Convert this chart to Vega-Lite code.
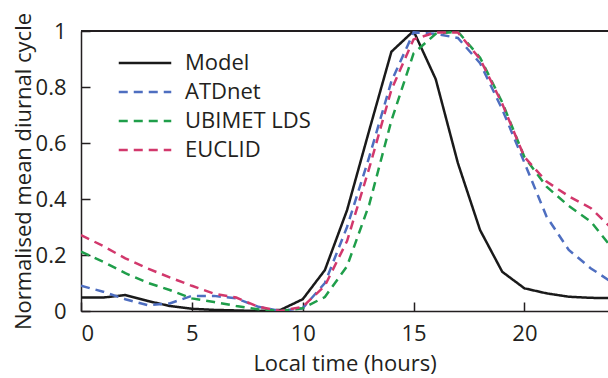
{
  "$schema": "https://vega.github.io/schema/vega-lite/v6.json",
  "width": 527,
  "height": 280,
  "autosize": {"type": "none"},
  "padding": {"left": 81, "top": 31, "right": 0, "bottom": 67},
  "background": "white",
  "config": {
    "view": {"stroke": null},
    "font": "Open Sans",
    "axis": {
      "grid": false,
      "domainColor": "#231f20",
      "domainWidth": 1.5,
      "tickColor": "#231f20",
      "tickWidth": 1.5,
      "tickSize": -9,
      "labelFont": "Open Sans",
      "labelFontSize": 22,
      "labelColor": "#231f20",
      "titleFont": "Open Sans",
      "titleFontSize": 22,
      "titleFontWeight": "normal",
      "titleColor": "#231f20"
    },
    "legend": {
      "labelFont": "Open Sans",
      "labelFontSize": 22,
      "labelColor": "#231f20"
    }
  },
  "data": {
    "values": [
      {"h": 0, "s": "Model", "v": 0.048}, {"h": 1, "s": "Model", "v": 0.048}, {"h": 2, "s": "Model", "v": 0.057}, {"h": 3, "s": "Model", "v": 0.036}, {"h": 4, "s": "Model", "v": 0.018}, {"h": 5, "s": "Model", "v": 0.008}, {"h": 6, "s": "Model", "v": 0.004}, {"h": 7, "s": "Model", "v": 0.002}, {"h": 8, "s": "Model", "v": 0.0}, {"h": 9, "s": "Model", "v": 0.004}, {"h": 10, "s": "Model", "v": 0.042}, {"h": 11, "s": "Model", "v": 0.146}, {"h": 12, "s": "Model", "v": 0.36}, {"h": 13, "s": "Model", "v": 0.645}, {"h": 14, "s": "Model", "v": 0.926}, {"h": 15, "s": "Model", "v": 1.0}, {"h": 16, "s": "Model", "v": 0.828}, {"h": 17, "s": "Model", "v": 0.528}, {"h": 18, "s": "Model", "v": 0.289}, {"h": 19, "s": "Model", "v": 0.14}, {"h": 20, "s": "Model", "v": 0.081}, {"h": 21, "s": "Model", "v": 0.063}, {"h": 22, "s": "Model", "v": 0.051}, {"h": 23, "s": "Model", "v": 0.047}, {"h": 24, "s": "Model", "v": 0.046},
      {"h": 0, "s": "ATDnet", "v": 0.09}, {"h": 1, "s": "ATDnet", "v": 0.069}, {"h": 2, "s": "ATDnet", "v": 0.042}, {"h": 3, "s": "ATDnet", "v": 0.021}, {"h": 4, "s": "ATDnet", "v": 0.027}, {"h": 5, "s": "ATDnet", "v": 0.054}, {"h": 6, "s": "ATDnet", "v": 0.054}, {"h": 7, "s": "ATDnet", "v": 0.045}, {"h": 8, "s": "ATDnet", "v": 0.015}, {"h": 9, "s": "ATDnet", "v": 0.0}, {"h": 10, "s": "ATDnet", "v": 0.01}, {"h": 11, "s": "ATDnet", "v": 0.1}, {"h": 12, "s": "ATDnet", "v": 0.3}, {"h": 13, "s": "ATDnet", "v": 0.55}, {"h": 14, "s": "ATDnet", "v": 0.82}, {"h": 15, "s": "ATDnet", "v": 0.995}, {"h": 16, "s": "ATDnet", "v": 0.99}, {"h": 17, "s": "ATDnet", "v": 0.975}, {"h": 18, "s": "ATDnet", "v": 0.885}, {"h": 19, "s": "ATDnet", "v": 0.72}, {"h": 20, "s": "ATDnet", "v": 0.53}, {"h": 21, "s": "ATDnet", "v": 0.337}, {"h": 22, "s": "ATDnet", "v": 0.218}, {"h": 23, "s": "ATDnet", "v": 0.152}, {"h": 24, "s": "ATDnet", "v": 0.1},
      {"h": 0, "s": "UBIMET LDS", "v": 0.212}, {"h": 1, "s": "UBIMET LDS", "v": 0.176}, {"h": 2, "s": "UBIMET LDS", "v": 0.135}, {"h": 3, "s": "UBIMET LDS", "v": 0.101}, {"h": 4, "s": "UBIMET LDS", "v": 0.075}, {"h": 5, "s": "UBIMET LDS", "v": 0.045}, {"h": 6, "s": "UBIMET LDS", "v": 0.032}, {"h": 7, "s": "UBIMET LDS", "v": 0.018}, {"h": 8, "s": "UBIMET LDS", "v": 0.006}, {"h": 9, "s": "UBIMET LDS", "v": 0.0}, {"h": 10, "s": "UBIMET LDS", "v": 0.01}, {"h": 11, "s": "UBIMET LDS", "v": 0.05}, {"h": 12, "s": "UBIMET LDS", "v": 0.16}, {"h": 13, "s": "UBIMET LDS", "v": 0.38}, {"h": 14, "s": "UBIMET LDS", "v": 0.68}, {"h": 15, "s": "UBIMET LDS", "v": 0.92}, {"h": 16, "s": "UBIMET LDS", "v": 0.99}, {"h": 17, "s": "UBIMET LDS", "v": 0.998}, {"h": 18, "s": "UBIMET LDS", "v": 0.905}, {"h": 19, "s": "UBIMET LDS", "v": 0.745}, {"h": 20, "s": "UBIMET LDS", "v": 0.55}, {"h": 21, "s": "UBIMET LDS", "v": 0.444}, {"h": 22, "s": "UBIMET LDS", "v": 0.375}, {"h": 23, "s": "UBIMET LDS", "v": 0.319}, {"h": 24, "s": "UBIMET LDS", "v": 0.22},
      {"h": 0, "s": "EUCLID", "v": 0.271}, {"h": 1, "s": "EUCLID", "v": 0.232}, {"h": 2, "s": "EUCLID", "v": 0.188}, {"h": 3, "s": "EUCLID", "v": 0.152}, {"h": 4, "s": "EUCLID", "v": 0.12}, {"h": 5, "s": "EUCLID", "v": 0.09}, {"h": 6, "s": "EUCLID", "v": 0.062}, {"h": 7, "s": "EUCLID", "v": 0.048}, {"h": 8, "s": "EUCLID", "v": 0.015}, {"h": 9, "s": "EUCLID", "v": 0.0}, {"h": 10, "s": "EUCLID", "v": 0.015}, {"h": 11, "s": "EUCLID", "v": 0.09}, {"h": 12, "s": "EUCLID", "v": 0.25}, {"h": 13, "s": "EUCLID", "v": 0.51}, {"h": 14, "s": "EUCLID", "v": 0.79}, {"h": 15, "s": "EUCLID", "v": 0.97}, {"h": 16, "s": "EUCLID", "v": 0.995}, {"h": 17, "s": "EUCLID", "v": 0.995}, {"h": 18, "s": "EUCLID", "v": 0.9}, {"h": 19, "s": "EUCLID", "v": 0.74}, {"h": 20, "s": "EUCLID", "v": 0.55}, {"h": 21, "s": "EUCLID", "v": 0.462}, {"h": 22, "s": "EUCLID", "v": 0.41}, {"h": 23, "s": "EUCLID", "v": 0.367}, {"h": 24, "s": "EUCLID", "v": 0.29}
    ]
  },
  "layer": [
    {
      "mark": {"type": "rule", "color": "#231f20", "strokeWidth": 1.5},
      "encoding": {"y": {"datum": 1, "type": "quantitative", "scale": {"domain": [0, 1]}}}
    },
    {
      "mark": {"type": "line", "strokeWidth": 2.5, "clip": true},
      "encoding": {
        "x": {
          "field": "h", "type": "quantitative",
          "scale": {"domain": [0, 23.77], "nice": false, "zero": false},
          "axis": {"values": [0, 5, 10, 15, 20], "title": "Local time (hours)", "labelPadding": 21, "titlePadding": 9}
        },
        "y": {
          "field": "v", "type": "quantitative",
          "scale": {"domain": [0, 1], "nice": false},
          "axis": {"values": [0, 0.2, 0.4, 0.6, 0.8, 1], "format": "~g", "title": "Normalised mean diurnal cycle", "labelPadding": 24, "titlePadding": 0}
        },
        "color": {
          "field": "s", "type": "nominal",
          "scale": {"domain": ["Model", "ATDnet", "UBIMET LDS", "EUCLID"], "range": ["#1a1a1a", "#4e6ec0", "#1f9e4a", "#d2386c"]},
          "legend": {
            "title": null, "orient": "none", "legendX": 52, "legendY": 20,
            "symbolType": "M-2.5,0H2.5", "symbolSize": 441, "symbolStrokeWidth": 2.5,
            "rowPadding": 6, "labelOffset": 28
          }
        },
        "strokeDash": {
          "field": "s", "type": "nominal",
          "scale": {"domain": ["Model", "ATDnet", "UBIMET LDS", "EUCLID"], "range": [[1, 0], [9, 6], [9, 6], [9, 6]]},
          "legend": null
        }
      }
    }
  ]
}
